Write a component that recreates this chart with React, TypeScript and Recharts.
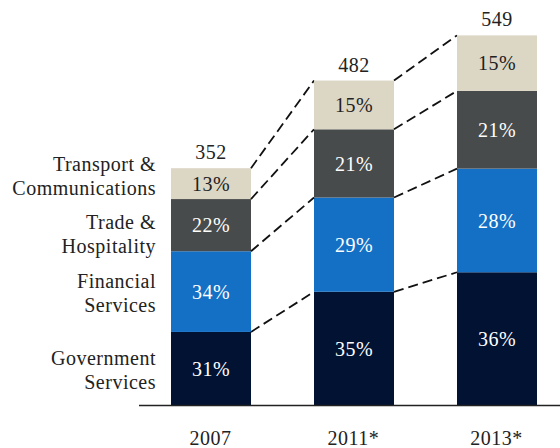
import { BarChart, Bar, XAxis, YAxis, LabelList } from "recharts"

const YEARS = ["2007", "2011*", "2013*"]
const TOTALS = [352, 482, 549]
const GOV_PCT = [31, 35, 36]
const FIN_PCT = [34, 29, 28]
const TRADE_PCT = [22, 21, 21]
const TRANS_PCT = [13, 15, 15]

const SERIES_NAMES = {
  gov: ["Government", "Services"],
  fin: ["Financial", "Services"],
  trade: ["Trade &", "Hospitality"],
  trans: ["Transport &", "Communications"],
}

// styling per series (colour, label colour, vertical nudge of the left-hand name)
const SERIES = [
  { key: "gov", color: "#011233", text: "#ffffff", shift: 1 },
  { key: "fin", color: "#1470C5", text: "#ffffff", shift: 1 },
  { key: "trade", color: "#484B4B", text: "#ffffff", shift: 9 },
  { key: "trans", color: "#DCD6C5", text: "#222222", shift: -8 },
]

const data = YEARS.map((year, i) => ({
  year,
  total: TOTALS[i],
  gov: (TOTALS[i] * GOV_PCT[i]) / 100,
  fin: (TOTALS[i] * FIN_PCT[i]) / 100,
  trade: (TOTALS[i] * TRADE_PCT[i]) / 100,
  trans: (TOTALS[i] * TRANS_PCT[i]) / 100,
  govPct: GOV_PCT[i],
  finPct: FIN_PCT[i],
  tradePct: TRADE_PCT[i],
  transPct: TRANS_PCT[i],
}))

const CHART_W = 570
const CHART_H = 448
const MARGIN = { top: 1, right: 2, bottom: 0, left: 139 }
const BAND = (CHART_W - MARGIN.left - MARGIN.right) / YEARS.length
const FONT = '"Liberation Serif", "Times New Roman", serif'

type Row = (typeof data)[number]

function cumLevels(row: Row) {
  return [row.gov, row.gov + row.fin, row.gov + row.fin + row.trade, row.total]
}

function makeShape(key: string, color: string, shift: number, isTop: boolean) {
  return (props: any) => {
    const { x, y, width, height, index, payload } = props
    const names = SERIES_NAMES[key as keyof typeof SERIES_NAMES]
    const cy = y + height / 2 + shift
    let lines: JSX.Element[] = []
    if (isTop && index < data.length - 1) {
      const ratio = height / payload.trans
      const base = y + payload.total * ratio
      const next = data[index + 1]
      const here = cumLevels(payload)
      const there = cumLevels(next)
      lines = here.map((v, k) => (
        <line
          key={k}
          x1={x + width}
          y1={base - v * ratio}
          x2={x + BAND}
          y2={base - there[k] * ratio}
          stroke="#111"
          strokeWidth={1.8}
          strokeDasharray="10 5"
        />
      ))
    }
    return (
      <g>
        <rect x={x} y={y} width={width} height={height} fill={color} />
        {index === 0 && (
          <text x={x - 15} textAnchor="end" fontSize={20} fill="#222" fontFamily={FONT}>
            <tspan x={x - 15} y={cy - 12} dominantBaseline="central">{names[0]}</tspan>
            <tspan x={x - 15} y={cy + 12} dominantBaseline="central">{names[1]}</tspan>
          </text>
        )}
        {lines}
      </g>
    )
  }
}

export default function App() {
  return (
    <div
      style={{
        position: "fixed",
        left: 0,
        top: 0,
        width: 560,
        height: 448,
        overflow: "hidden",
        background: "white",
        fontFamily: FONT,
        letterSpacing: 0.5,
      }}
    >
      <BarChart width={CHART_W} height={CHART_H} data={data} margin={MARGIN} barSize={80}>
        <YAxis hide domain={[0, 600]} />
        <XAxis
          dataKey="year"
          height={42.5}
          tickLine={false}
          tickMargin={19}
          axisLine={{ stroke: "#222", strokeWidth: 1.6 }}
          tick={{ fontSize: 20, fill: "#222", fontFamily: FONT }}
          interval={0}
        />
        {SERIES.map((s, si) => (
          <Bar
            key={s.key}
            dataKey={s.key}
            stackId="a"
            fill={s.color}
            isAnimationActive={false}
            shape={makeShape(s.key, s.color, s.shift, si === SERIES.length - 1)}
          >
            <LabelList
              dataKey={`${s.key}Pct`}
              position="center"
              fill={s.text}
              fontSize={20}
              fontFamily={FONT}
              formatter={(v: any) => `${v}%`}
            />
            {si === SERIES.length - 1 && (
              <LabelList
                dataKey="total"
                position="top"
                offset={9}
                fill="#222"
                fontSize={20}
                fontFamily={FONT}
              />
            )}
          </Bar>
        ))}
      </BarChart>
    </div>
  )
}
